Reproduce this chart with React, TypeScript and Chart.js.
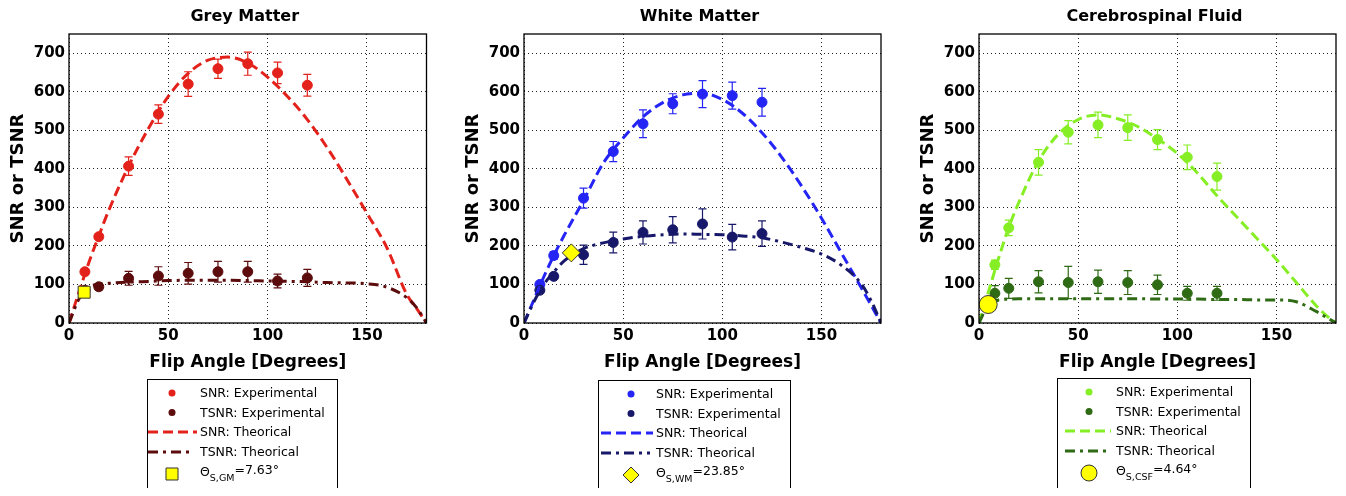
import React, { useEffect, useRef } from 'react';
import { Chart, registerables } from 'chart.js';

Chart.register(...registerables);

// ---------- data ----------
const expAngles = [8, 15, 30, 45, 60, 75, 90, 105, 120];
const theoryAngles = [0, 5, 10, 15, 20, 30, 40, 50, 60, 70, 80, 90, 100, 110, 120, 130, 140, 150, 160, 170, 175, 180];
const xTickValues = [0, 50, 100, 150];
const yTickValues = [0, 100, 200, 300, 400, 500, 600, 700];

// Grey matter
const gmSnrExp = [133, 224, 407, 542, 620, 660, 673, 649, 617];
const gmSnrErr = [6, 6, 24, 24, 32, 25, 30, 28, 28];
const gmTsnrExp = [85, 94, 116, 122, 129, 133, 133, 109, 117];
const gmTsnrErr = [5, 8, 18, 24, 28, 27, 27, 18, 22];
const gmSnrTheory = [0, 80, 157, 226, 292, 407, 505, 588, 648, 682, 690, 675, 638, 588, 528, 455, 372, 285, 196, 75, 38, 0];
const gmTsnrTheory = [0, 62, 93, 100, 103, 106, 108, 110, 111, 111, 111, 110, 109, 108, 107, 105, 104, 102, 93, 66, 40, 0];
const gmSpecialAngle = [7.63];
const gmSpecialValue = [80];

// White matter
const wmSnrExp = [100, 175, 324, 445, 517, 569, 594, 590, 573];
const wmSnrErr = [8, 10, 26, 26, 36, 26, 35, 35, 36];
const wmTsnrExp = [85, 121, 177, 209, 235, 242, 257, 223, 232];
const wmTsnrErr = [6, 8, 25, 27, 30, 34, 39, 33, 33];
const wmSnrTheory = [0, 60, 120, 175, 225, 318, 415, 480, 535, 572, 592, 596, 580, 545, 494, 430, 355, 272, 182, 92, 46, 0];
const wmTsnrTheory = [0, 55, 100, 132, 160, 193, 208, 218, 225, 229, 231, 230, 229, 226, 221, 210, 196, 179, 150, 102, 58, 0];
const wmSpecialAngle = [23.85];
const wmSpecialValue = [182];

// Cerebrospinal fluid
const csfSnrExp = [151, 247, 417, 495, 514, 507, 476, 430, 380];
const csfSnrErr = [12, 20, 33, 30, 33, 33, 26, 32, 35];
const csfTsnrExp = [77, 90, 107, 105, 107, 105, 99, 77, 77];
const csfTsnrErr = [20, 26, 29, 42, 30, 31, 25, 18, 18];
const csfSnrTheory = [0, 85, 170, 248, 312, 420, 490, 528, 540, 530, 510, 478, 440, 390, 330, 275, 220, 165, 105, 45, 20, 0];
const csfTsnrTheory = [0, 50, 60, 62, 63, 63, 63, 63, 63, 63, 63, 62, 62, 62, 61, 61, 60, 60, 55, 30, 15, 0];
const csfSpecialAngle = [4.64];
const csfSpecialValue = [48];

const FONT = '"DejaVu Sans", "Liberation Sans", sans-serif';

type PanelCfg = {
  title: string;
  snrColor: string;
  tsnrColor: string;
  snrExp: number[];
  snrErr: number[];
  tsnrExp: number[];
  tsnrErr: number[];
  snrTheory: number[];
  tsnrTheory: number[];
  specialAngle: number[];
  specialValue: number[];
  specialStyle: string;
  specialRadius: number;
  sub: string;
  specialText: string;
  left: number;
  width: number;
  padRight: number;
  legend: { left: number; top: number; width: number; height: number; markerX: number; lineStart: number; lineEnd: number; textX: number };
};

const panels: PanelCfg[] = [
  {
    title: 'Grey Matter', snrColor: '#e3221b', tsnrColor: '#5c0c0c',
    snrExp: gmSnrExp, snrErr: gmSnrErr, tsnrExp: gmTsnrExp, tsnrErr: gmTsnrErr,
    snrTheory: gmSnrTheory, tsnrTheory: gmTsnrTheory,
    specialAngle: gmSpecialAngle, specialValue: gmSpecialValue,
    specialStyle: 'rect', specialRadius: 8.5, sub: 'S,GM', specialText: '=7.63°',
    left: 0, width: 428, padRight: 8,
    legend: { left: 139, top: 371, width: 190, height: 113, markerX: 25, lineStart: 1, lineEnd: 50, textX: 53 },
  },
  {
    title: 'White Matter', snrColor: '#2424f4', tsnrColor: '#18186a',
    snrExp: wmSnrExp, snrErr: wmSnrErr, tsnrExp: wmTsnrExp, tsnrErr: wmTsnrErr,
    snrTheory: wmSnrTheory, tsnrTheory: wmTsnrTheory,
    specialAngle: wmSpecialAngle, specialValue: wmSpecialValue,
    specialStyle: 'rectRot', specialRadius: 9, sub: 'S,WM', specialText: '=23.85°',
    left: 455, width: 428, padRight: 9,
    legend: { left: 135, top: 372, width: 192, height: 113, markerX: 33, lineStart: 3, lineEnd: 55, textX: 58 },
  },
  {
    title: 'Cerebrospinal Fluid', snrColor: '#86ee24', tsnrColor: '#2f6a14',
    snrExp: csfSnrExp, snrErr: csfSnrErr, tsnrExp: csfTsnrExp, tsnrErr: csfTsnrErr,
    snrTheory: csfSnrTheory, tsnrTheory: csfTsnrTheory,
    specialAngle: csfSpecialAngle, specialValue: csfSpecialValue,
    specialStyle: 'circle', specialRadius: 9, sub: 'S,CSF', specialText: '=4.64°',
    left: 910, width: 428, padRight: 7,
    legend: { left: 139, top: 370, width: 193, height: 111, markerX: 32, lineStart: 8, lineEnd: 54, textX: 59 },
  },
];

const SNR_DASH = [10, 5];
const TSNR_DASH = [10, 5, 3, 5];
const YELLOW = '#ffff00';

function makeDecor(p: PanelCfg) {
  return {
    id: 'decor',
    beforeDatasetsDraw(chart: any) {
      const { ctx, scales } = chart;
      const x = scales.x;
      const y = scales.y;
      const sets = [
        { v: p.snrExp, e: p.snrErr, c: p.snrColor },
        { v: p.tsnrExp, e: p.tsnrErr, c: p.tsnrColor },
      ];
      ctx.save();
      ctx.lineWidth = 1.2;
      sets.forEach((s) => {
        ctx.strokeStyle = s.c;
        expAngles.forEach((a, i) => {
          const px = x.getPixelForValue(a);
          const t = y.getPixelForValue(s.v[i] + s.e[i]);
          const b = y.getPixelForValue(s.v[i] - s.e[i]);
          ctx.beginPath();
          ctx.moveTo(px, t);
          ctx.lineTo(px, b);
          ctx.moveTo(px - 4, t);
          ctx.lineTo(px + 4, t);
          ctx.moveTo(px - 4, b);
          ctx.lineTo(px + 4, b);
          ctx.stroke();
        });
      });
      ctx.restore();
    },
    afterDraw(chart: any) {
      const { ctx, chartArea } = chart;
      ctx.save();
      // plot box
      ctx.strokeStyle = '#000';
      ctx.lineWidth = 1.3;
      ctx.strokeRect(chartArea.left, chartArea.top, chartArea.right - chartArea.left, chartArea.bottom - chartArea.top);
      // title
      ctx.fillStyle = '#000';
      ctx.font = `bold 16px ${FONT}`;
      ctx.textAlign = 'center';
      ctx.textBaseline = 'middle';
      ctx.fillText(p.title, (chartArea.left + chartArea.right) / 2 - 3, 9);

      // legend
      const L = p.legend;
      ctx.lineWidth = 1;
      ctx.strokeStyle = '#000';
      ctx.strokeRect(L.left + 0.5, L.top + 0.5, L.width, L.height);
      const rows = [14, 33.5, 53, 73, 95].map((r) => L.top + r);
      const mx = L.left + L.markerX;
      const tx = L.left + L.textX;
      ctx.textAlign = 'left';
      ctx.font = `12.5px ${FONT}`;
      // row 0 and 1: dots
      [[p.snrColor, 'SNR: Experimental'], [p.tsnrColor, 'TSNR: Experimental']].forEach(([c, t], i) => {
        ctx.fillStyle = c;
        ctx.beginPath();
        ctx.arc(mx, rows[i], 3.5, 0, Math.PI * 2);
        ctx.fill();
        ctx.fillStyle = '#000';
        ctx.fillText(t, tx, rows[i] + 1);
      });
      // row 2 and 3: lines
      [[p.snrColor, SNR_DASH, 'SNR: Theorical', L.lineEnd], [p.tsnrColor, TSNR_DASH, 'TSNR: Theorical', L.lineEnd - 3]].forEach(([c, d, t, end]: any, i) => {
        const ry = rows[2 + i];
        ctx.strokeStyle = c;
        ctx.lineWidth = 3;
        ctx.setLineDash(d);
        ctx.beginPath();
        ctx.moveTo(L.left + L.lineStart, ry);
        ctx.lineTo(L.left + end, ry);
        ctx.stroke();
        ctx.setLineDash([]);
        ctx.fillStyle = '#000';
        ctx.fillText(t, tx, ry + 1);
      });
      // row 4: special marker
      const ry = rows[4];
      ctx.fillStyle = YELLOW;
      ctx.strokeStyle = '#333';
      ctx.lineWidth = 1;
      ctx.beginPath();
      if (p.specialStyle === 'rect') {
        ctx.rect(mx - 6, ry - 6, 12, 12);
      } else if (p.specialStyle === 'rectRot') {
        ctx.moveTo(mx, ry - 8);
        ctx.lineTo(mx + 8, ry);
        ctx.lineTo(mx, ry + 8);
        ctx.lineTo(mx - 8, ry);
        ctx.closePath();
      } else {
        ctx.arc(mx, ry, 8, 0, Math.PI * 2);
      }
      ctx.fill();
      ctx.stroke();
      ctx.fillStyle = '#000';
      ctx.font = `12.5px ${FONT}`;
      ctx.fillText('Θ', tx, ry - 1);
      let w = ctx.measureText('Θ').width;
      ctx.font = `9.5px ${FONT}`;
      ctx.fillText(p.sub, tx + w, ry + 5);
      w += ctx.measureText(p.sub).width;
      ctx.font = `12.5px ${FONT}`;
      ctx.fillText(p.specialText, tx + w, ry - 3);
      ctx.restore();
    },
  };
}

function Panel({ p }: { p: PanelCfg }) {
  const ref = useRef<HTMLCanvasElement>(null);
  useEffect(() => {
    const toPts = (xs: number[], ys: number[]) => xs.map((a, i) => ({ x: a, y: ys[i] }));
    const chart = new Chart(ref.current as HTMLCanvasElement, {
      type: 'scatter',
      data: {
        datasets: [
          {
            label: 'special',
            data: toPts(p.specialAngle, p.specialValue),
            pointStyle: p.specialStyle as any,
            pointRadius: p.specialRadius,
            backgroundColor: YELLOW,
            borderColor: '#333',
            borderWidth: 1,
          },
          {
            label: 'TSNR: Theorical',
            data: toPts(theoryAngles, p.tsnrTheory),
            showLine: true,
            pointRadius: 0,
            borderColor: p.tsnrColor,
            borderWidth: 3,
            borderDash: TSNR_DASH,
            cubicInterpolationMode: 'monotone',
            fill: false,
          },
          {
            label: 'SNR: Theorical',
            data: toPts(theoryAngles, p.snrTheory),
            showLine: true,
            pointRadius: 0,
            borderColor: p.snrColor,
            borderWidth: 3,
            borderDash: SNR_DASH,
            cubicInterpolationMode: 'monotone',
            fill: false,
          },
          {
            label: 'TSNR: Experimental',
            data: toPts(expAngles, p.tsnrExp),
            pointRadius: 5,
            backgroundColor: p.tsnrColor,
            borderColor: p.tsnrColor,
          },
          {
            label: 'SNR: Experimental',
            data: toPts(expAngles, p.snrExp),
            pointRadius: 5,
            backgroundColor: p.snrColor,
            borderColor: p.snrColor,
          },
        ],
      },
      options: {
        responsive: false,
        animation: false,
        layout: { padding: { top: 26, right: p.padRight, bottom: 123, left: 0 } },
        plugins: {
          legend: { display: false },
          tooltip: { enabled: false },
          title: { display: false },
        },
        scales: {
          x: {
            type: 'linear',
            min: 0,
            max: 180,
            afterBuildTicks: (s: any) => {
              s.ticks = xTickValues.map((v) => ({ value: v }));
            },
            afterFit: (s: any) => {
              s.height = 50;
            },
            grid: { color: '#222', lineWidth: 1, drawTicks: false },
            border: { display: false, dash: [1, 3] },
            ticks: { padding: 4, color: '#000', font: { family: FONT, size: 15, weight: 'bold' } },
            title: {
              display: true,
              text: 'Flip Angle [Degrees]',
              color: '#000',
              font: { family: FONT, size: 17, weight: 'bold' },
              padding: { top: 0, bottom: 0 },
            },
          },
          y: {
            type: 'linear',
            min: 0,
            max: 750,
            afterBuildTicks: (s: any) => {
              s.ticks = yTickValues.map((v) => ({ value: v }));
            },
            afterFit: (s: any) => {
              s.width = 61;
            },
            grid: { color: '#222', lineWidth: 1, drawTicks: false },
            border: { display: false, dash: [1, 3] },
            ticks: { padding: 4, color: '#000', font: { family: FONT, size: 15, weight: 'bold' } },
            title: {
              display: true,
              text: 'SNR or TSNR',
              color: '#000',
              font: { family: FONT, size: 18, weight: 'bold' },
              padding: { top: 0, bottom: 0 },
            },
          },
        },
      } as any,
      plugins: [makeDecor(p)],
    });
    return () => chart.destroy();
  }, [p]);
  return (
    <div style={{ position: 'absolute', left: p.left, top: 0, width: p.width, height: 488 }}>
      <canvas ref={ref} width={p.width} height={488} style={{ display: 'block' }} />
    </div>
  );
}

export default function App() {
  return (
    <div style={{ position: 'relative', width: 1330, height: 480, background: '#fff' }}>
      {panels.map((p) => (
        <Panel key={p.title} p={p} />
      ))}
    </div>
  );
}
